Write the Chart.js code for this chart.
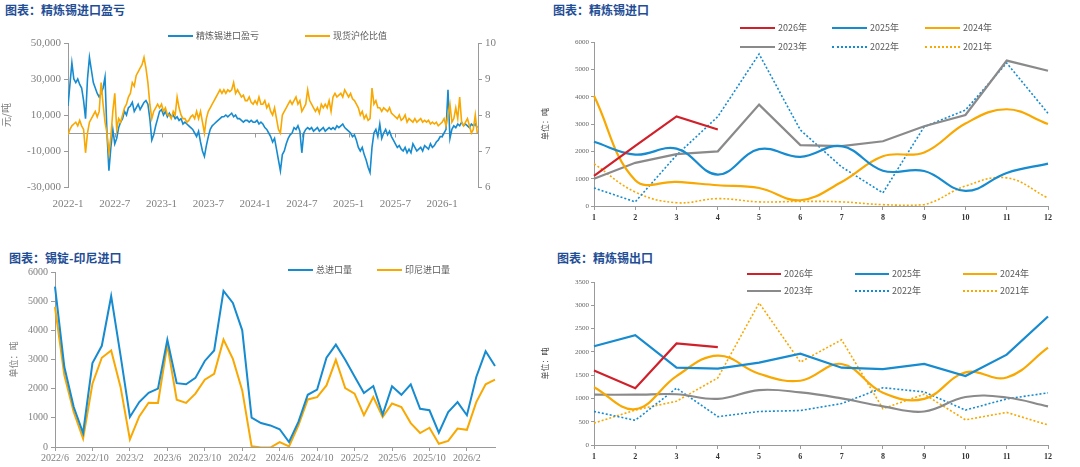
<!DOCTYPE html>
<html lang="zh">
<head>
<meta charset="utf-8">
<script src="https://cdn.jsdelivr.net/npm/chart.js@4.4.1/dist/chart.umd.min.js"></script>
<style>
  body { margin: 0; background: #fff; }
  #page { position: relative; width: 1080px; height: 467px; overflow: hidden; font-family: "Noto Sans CJK SC", sans-serif; }
  .title { position: absolute; font-size: 12px; font-weight: bold; color: #1f4e96; white-space: nowrap; line-height: 14px; }
  .lg { position: absolute; font-size: 9px; color: #595959; white-space: nowrap; line-height: 10px; height: 10px; }
  .lg i { display: inline-block; vertical-align: middle; margin-right: 3px; height: 0; position: relative; top: -1px; }
  canvas { position: absolute; }
</style>
</head>
<body>
<div id="page">
  <div class="title" style="left:5px;top:3px">图表：精炼锡进口盈亏</div>
  <div class="title" style="left:553px;top:3px">图表：精炼锡进口</div>
  <div class="title" style="left:9px;top:251px">图表：锡锭-印尼进口</div>
  <div class="title" style="left:557px;top:251px">图表：精炼锡出口</div>
  <canvas id="c1" width="540" height="182" style="left:0;top:30px"></canvas>
  <canvas id="c2" width="540" height="196" style="left:540px;top:30px"></canvas>
  <canvas id="c3" width="540" height="210" style="left:0;top:255px"></canvas>
  <canvas id="c4" width="540" height="195" style="left:540px;top:270px"></canvas>
</div>
<script>
// ---- 精炼锡进口盈亏 (weekly, from 2022-1) ----
const profitPerTon = [
  15000, 27000, 39000, 30000,  28000, 30000, 27000, 25000,  18000, 8000, 30000, 42000,
  35000, 28000, 25000, 22000,  20000, 22000, 25000, 31000,  0, -21000, -8000, 2000,
  -6000, -3000, 3000, 6000,  8000, 12000, 10000, 14000,  15000, 17000, 12000, 14000,
  16000, 13000, 15000, 17000,  18000, 16000, 8000, -4000,  -1000, 4000, 8000, 12000,
  13000, 10000, 12000, 9000,  11000, 9000, 10000, 8000,  9000, 7000, 8000, 5000,
  6000, 5000, 4000, 3000,  2000, 0, -2000, 1000,  -5000, -10000, -13000, -7000,
  -2000, 2000, 4000, 5000,  6000, 7000, 8000, 9000,  9000, 10000, 9000, 10000,
  11000, 9000, 10000, 8000,  8000, 7000, 6000, 7000,  7000, 6000, 7000, 6000,
  6000, 7000, 5000, 6000,  5000, 3000, 2000, 0,  -2000, -5000, -3000, -9000,
  -15000, -21000, -12000, -10000,  -6000, -3000, -1000, 0,  3000, 2000, 4000, 1000,
  -11000, 0, 2000, 3000,  2000, 3000, 1000, 2000,  3000, 1000, 2000, 3000,
  1000, 2000, 3000, 2000,  3000, 2000, 4000, 3000,  4000, 5000, 3000, 2000,
  1000, 0, -2000, -1000,  -4000, -8000, -10000, -8000,  -12000, -15000, -19000, -22000,
  -8000, 0, 2000, -2000,  5000, -3000, 0, 2000,  -1000, 1000, -2000, -4000,
  -6000, -8000, -7000, -9000,  -10000, -8000, -11000, -9000,  -11000, -6000, -8000, -10000,
  -9000, -8000, -10000, -7000,  -8000, -9000, -6000, -8000,  -7000, -5000, -4000, -2000,
  -2000, 0, 2000, 24000,  -3000, 2000, 4000, 3000,  5000, 4000, 6000, 4000,
  5000, 4000, 3000, 5000,  4000, 5000, 3000
];
const spotRatio = [
  7.45, 7.6, 7.7, 7.75,  7.8, 7.7, 7.85, 7.7,  7.6, 6.95, 7.5, 7.8,
  7.9, 8.0, 8.1, 7.95,  8.1, 8.9, 8.3, 7.8,  7.5, 6.95, 7.4, 8.1,
  8.6, 7.6, 7.9, 7.8,  8.0, 8.2, 8.3, 8.5,  8.6, 8.9, 8.8, 9.1,
  9.2, 9.3, 9.4, 9.6,  9.3, 8.9, 8.3, 7.9,  8.1, 8.2, 8.3, 8.2,
  8.3, 8.1, 8.2, 8.0,  8.0, 7.9, 8.1, 8.0,  8.5, 8.2, 8.0, 7.9,
  7.9, 7.8, 7.85, 7.95,  8.0, 7.9, 8.1, 7.9,  8.1, 7.8, 7.5, 7.9,
  8.1, 8.2, 8.3, 8.4,  8.5, 8.6, 8.7, 8.6,  8.7, 8.6, 8.7, 8.65,
  8.7, 8.9, 8.6, 8.7,  8.6, 8.5, 8.55, 8.4,  8.4, 8.5, 8.35, 8.3,
  8.4, 8.3, 8.5, 8.3,  8.3, 8.4, 8.2, 8.3,  8.1, 8.0, 8.2, 7.9,
  7.6, 7.5, 8.0, 8.1,  8.2, 8.3, 8.4, 8.3,  8.4, 8.5, 8.3, 8.4,
  8.1, 8.2, 8.3, 8.7,  8.4, 8.3, 8.2, 8.1,  8.2, 8.05, 8.3, 8.2,
  8.3, 8.2, 8.4, 8.1,  8.5, 8.6, 8.5, 8.55,  8.6, 8.5, 8.7, 8.6,
  8.5, 8.6, 8.45, 8.4,  8.3, 8.2, 8.0, 8.1,  7.9, 8.0, 7.85, 7.9,
  8.75, 8.3, 8.4, 8.2,  8.2, 8.1, 8.2, 8.15,  8.1, 8.2, 8.05, 8.0,
  7.95, 7.9, 8.0, 7.85,  7.9, 8.0, 7.8, 7.9,  7.85, 7.8, 7.9, 7.8,
  7.85, 7.9, 7.8, 7.85,  7.8, 7.85, 7.75, 7.8,  7.75, 7.8, 7.7, 7.75,
  7.8, 7.9, 7.7, 8.0,  8.3, 7.8, 7.9, 8.2,  7.9, 8.5, 7.8, 7.7,
  7.8, 7.9, 7.7, 7.5,  7.6, 8.0, 7.5
];

// ---- 精炼锡进口 / 出口 by calendar month ----
const monthLabels = ['1', '2', '3', '4', '5', '6', '7', '8', '9', '10', '11', '12'];
const import2026 = [1100, 2200, 3280, 2800];
const import2025 = [2350, 1880, 2100, 1150, 2080, 1800, 2190, 1290, 1280, 550, 1210, 1550];
const import2024 = [4030, 940, 880, 760, 660, 210, 880, 1820, 1960, 3020, 3540, 3000];
const import2023 = [1000, 1580, 1900, 2000, 3710, 2230, 2190, 2370, 2920, 3330, 5320, 4950];
const import2022 = [660, 150, 1860, 3270, 5560, 2780, 1430, 480, 2900, 3510, 5230, 3390];
const import2021 = [1550, 510, 120, 270, 150, 170, 150, 50, 50, 730, 1030, 290];

const export2026 = [1600, 1220, 2180, 2100];
const export2025 = [2120, 2360, 1660, 1640, 1770, 1960, 1660, 1630, 1740, 1480, 1940, 2760];
const export2024 = [1240, 770, 1480, 1920, 1530, 1380, 1740, 1120, 990, 1560, 1450, 2090];
const export2023 = [1080, 1080, 1090, 990, 1180, 1130, 1000, 830, 720, 1030, 1020, 830];
const export2022 = [720, 530, 1220, 610, 720, 740, 890, 1230, 1140, 750, 990, 1120];
const export2021 = [470, 750, 940, 1440, 3050, 1780, 2260, 780, 1090, 540, 700, 430];

// ---- 锡锭-印尼进口 ----
const ingotMonths = [
  '2022/6', '2022/7', '2022/8', '2022/9', '2022/10', '2022/11', '2022/12',
  '2023/1', '2023/2', '2023/3', '2023/4', '2023/5', '2023/6', '2023/7', '2023/8', '2023/9', '2023/10', '2023/11', '2023/12',
  '2024/1', '2024/2', '2024/3', '2024/4', '2024/5', '2024/6', '2024/7', '2024/8', '2024/9', '2024/10', '2024/11', '2024/12',
  '2025/1', '2025/2', '2025/3', '2025/4', '2025/5', '2025/6', '2025/7', '2025/8', '2025/9', '2025/10', '2025/11', '2025/12',
  '2026/1', '2026/2', '2026/3', '2026/4', '2026/5'
];
const totalImports = [5500, 2740, 1370, 480, 2880, 3470, 5170, 3140, 1030, 1540, 1860, 2000, 3680, 2190, 2150, 2370,
  2950, 3310, 5350, 4940, 4000, 1010, 820, 740, 610, 170, 860, 1790, 1970, 3060, 3510, 2990,
  2420, 1850, 2090, 1110, 2080, 1790, 2150, 1310, 1260, 490, 1200, 1540, 1090, 2400, 3280, 2780];
const indonesiaImports = [4800, 2460, 1200, 290, 2170, 3060, 3310, 2060, 260, 1050, 1520, 1510, 3510, 1620, 1510, 1830,
  2310, 2510, 3680, 3020, 1940, 30, -20, -20, 170, 20, 740, 1630, 1710, 2110, 2990, 2020,
  1830, 1090, 1710, 1030, 1490, 1370, 820, 480, 660, 110, 210, 630, 590, 1540, 2150, 2310];

const BLUE = '#168bd0', ORANGE = '#f8a800', GRAY = '#8a8a8a', RED = '#d0202a';
const AXIS = '#9a9a9a', TICKTXT = '#7f7f7f';

Chart.defaults.font.family = '"Liberation Serif", serif';
Chart.defaults.animation = false;
Chart.defaults.responsive = false;
Chart.defaults.plugins.legend.display = false;
Chart.defaults.plugins.tooltip.enabled = false;
Chart.defaults.elements.point.radius = 0;

const page = document.getElementById('page');
function legendItem(x, y, label, color, width, dash, thick) {
  const d = document.createElement('div');
  d.className = 'lg';
  d.style.left = x + 'px';
  d.style.top = (y - 5) + 'px';
  const line = document.createElement('i');
  line.style.width = width + 'px';
  line.style.borderTop = (thick || 2) + 'px ' + (dash ? 'dotted ' : 'solid ') + color;
  d.appendChild(line);
  d.appendChild(document.createTextNode(label));
  page.appendChild(d);
}

// horizontal line at 0 with small ticks at each x label (chart 1 only)
const zeroLine = {
  id: 'zeroLine',
  beforeDatasetsDraw(chart) {
    const { ctx, chartArea, scales } = chart;
    const y0 = Math.round(scales.y.getPixelForValue(0)) + 0.5;
    ctx.save();
    ctx.strokeStyle = AXIS;
    ctx.lineWidth = 1;
    ctx.beginPath();
    ctx.moveTo(chartArea.left, y0);
    ctx.lineTo(chartArea.right, y0);
    scales.x.ticks.forEach(t => {
      const x = Math.round(scales.x.getPixelForValue(t.value)) + 0.5;
      ctx.moveTo(x, y0);
      ctx.lineTo(x, y0 + 4);
    });
    ctx.stroke();
    ctx.restore();
  }
};

// chart 1
legendItem(168, 36, '精炼锡进口盈亏', BLUE, 25);
legendItem(305, 36, '现货沪伦比值', ORANGE, 25);

new Chart(document.getElementById('c1'), {
  type: 'line',
  plugins: [zeroLine],
  data: {
    datasets: [
      { label: '精炼锡进口盈亏', data: profitPerTon.map((v, i) => ({ x: i / 4, y: v })), borderColor: BLUE, borderWidth: 1.6, yAxisID: 'y', order: 1 },
      { label: '现货沪伦比值', data: spotRatio.map((v, i) => ({ x: i / 4, y: v })), borderColor: ORANGE, borderWidth: 1.6, yAxisID: 'y2', order: 0 }
    ]
  },
  options: {
    layout: { padding: { top: 13, right: 30, left: 0, bottom: 0 } },
    scales: {
      x: {
        type: 'linear', min: 0, max: 52.6,
        grid: { display: false }, border: { display: false },
        afterBuildTicks: s => { s.ticks = s.ticks.filter(t => t.value % 6 === 0); },
        afterFit: s => { s.height = 25; },
        ticks: {
          stepSize: 6, includeBounds: false, color: TICKTXT, font: { size: 11 }, maxRotation: 0, autoSkip: false, padding: 3,
          callback: v => (2022 + Math.floor(v / 12)) + '-' + (v % 12 + 1)
        }
      },
      y: {
        position: 'left', min: -30000, max: 50000,
        afterFit: s => { s.width = 68; },
        border: { color: AXIS },
        grid: { drawOnChartArea: false, tickColor: AXIS, tickLength: 4 },
        ticks: { stepSize: 20000, color: TICKTXT, font: { size: 11 }, callback: v => v.toLocaleString('en-US') },
        title: { display: true, text: '元/吨', color: TICKTXT, font: { size: 10, family: '"Noto Sans CJK SC"' }, padding: { top: 0, bottom: 2 } }
      },
      y2: {
        position: 'right', min: 6, max: 10,
        afterFit: s => { s.width = 32; },
        border: { color: AXIS },
        grid: { drawOnChartArea: false, tickColor: AXIS, tickLength: 4 },
        ticks: { stepSize: 1, color: TICKTXT, font: { size: 11 } }
      }
    }
  }
});

// seasonal charts (进口 / 出口)
function seasonChart(id, series, yMax, yStep, yTitle) {
  return new Chart(document.getElementById(id), {
    type: 'line',
    data: {
      labels: monthLabels,
      datasets: series.map(s => ({
        label: s.label, data: s.data, borderColor: s.color,
        borderWidth: s.dash ? 1.6 : 2.2, borderDash: s.dash ? [2, 2] : [],
        tension: s.smooth ? 0.4 : 0
      }))
    },
    options: {
      layout: { padding: { top: 12, right: 32, left: 0, bottom: 0 } },
      scales: {
        x: {
          offset: false,
          afterFit: s => { s.height = 20; },
          border: { color: AXIS },
          grid: { drawOnChartArea: false, tickColor: AXIS, tickLength: 4 },
          ticks: { color: '#333', font: { size: 8, weight: 'bold' }, maxRotation: 0, autoSkip: false, padding: 3 }
        },
        y: {
          min: 0, max: yMax,
          afterFit: s => { s.width = 54; },
          border: { color: AXIS },
          grid: { drawOnChartArea: false, tickColor: AXIS, tickLength: 3 },
          ticks: { stepSize: yStep, color: '#666', font: { size: 7 }, padding: 2, callback: v => String(v) },
          title: { display: true, text: yTitle, color: '#444', font: { size: 8, family: '"Noto Sans CJK SC"' }, padding: { top: 0, bottom: 4 } }
        }
      }
    }
  });
}

const importSeries = [
  { label: '2026年', data: import2026, color: RED },
  { label: '2025年', data: import2025, color: BLUE, smooth: true },
  { label: '2024年', data: import2024, color: ORANGE, smooth: true },
  { label: '2023年', data: import2023, color: GRAY },
  { label: '2022年', data: import2022, color: BLUE, dash: true },
  { label: '2021年', data: import2021, color: ORANGE, dash: true, smooth: true }
];
const exportSeries = [
  { label: '2026年', data: export2026, color: RED },
  { label: '2025年', data: export2025, color: BLUE },
  { label: '2024年', data: export2024, color: ORANGE, smooth: true },
  { label: '2023年', data: export2023, color: GRAY, smooth: true },
  { label: '2022年', data: export2022, color: BLUE, dash: true },
  { label: '2021年', data: export2021, color: ORANGE, dash: true }
];

seasonChart('c2', importSeries, 6000, 1000, '单位：吨');
seasonChart('c4', exportSeries, 3500, 500, '单位：吨');

const cols2 = [740, 832, 925], rows2 = [28, 47];
importSeries.forEach((s, i) => legendItem(cols2[i % 3], rows2[Math.floor(i / 3)], s.label, s.color, 35, s.dash, s.dash ? 2 : 2.5));
const cols4 = [747, 855, 963], rows4 = [274, 291];
exportSeries.forEach((s, i) => legendItem(cols4[i % 3], rows4[Math.floor(i / 3)], s.label, s.color, 34, s.dash, s.dash ? 2 : 2.5));

// chart 3
legendItem(288, 270, '总进口量', BLUE, 25);
legendItem(377, 270, '印尼进口量', ORANGE, 25);

new Chart(document.getElementById('c3'), {
  type: 'line',
  data: {
    labels: ingotMonths,
    datasets: [
      { label: '总进口量', data: totalImports, borderColor: BLUE, borderWidth: 2 },
      { label: '印尼进口量', data: indonesiaImports, borderColor: ORANGE, borderWidth: 2 }
    ]
  },
  options: {
    layout: { padding: { top: 17, right: 45, left: 0, bottom: 0 } },
    scales: {
      x: {
        offset: false,
        afterFit: s => { s.height = 18; },
        border: { color: AXIS },
        grid: { drawOnChartArea: false, tickColor: c => (c.index % 4 === 0 ? AXIS : 'rgba(0,0,0,0)'), tickLength: 4 },
        ticks: {
          color: TICKTXT, font: { size: 10 }, maxRotation: 0, autoSkip: false, padding: 1,
          callback: (v, i) => (i % 4 === 0 ? ingotMonths[i] : '')
        }
      },
      y: {
        min: 0, max: 6000,
        afterFit: s => { s.width = 55; },
        border: { color: AXIS },
        grid: { drawOnChartArea: false, tickColor: AXIS, tickLength: 4 },
        ticks: { stepSize: 1000, color: TICKTXT, font: { size: 10 }, padding: 3, callback: v => String(v) },
        title: { display: true, text: '单位：吨', color: TICKTXT, font: { size: 9, family: '"Noto Sans CJK SC"' }, padding: { top: 8, bottom: 4 } }
      }
    }
  }
});
</script>
</body>
</html>
